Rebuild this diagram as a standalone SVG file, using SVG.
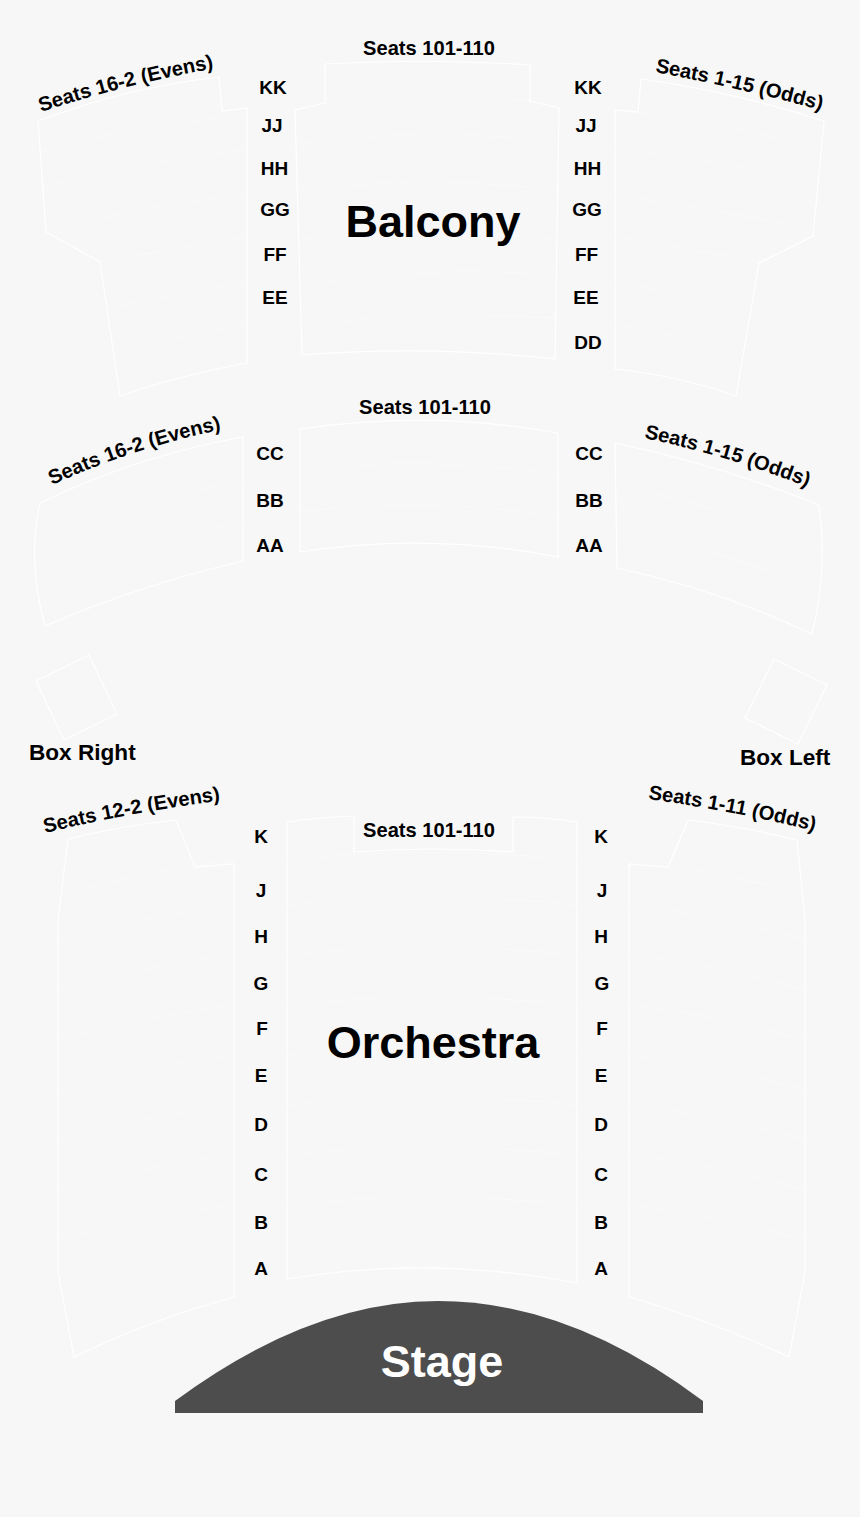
<svg xmlns="http://www.w3.org/2000/svg" width="860" height="1517" viewBox="0 0 860 1517">
<style>
.sec{fill:none;stroke:#fff;stroke-width:1.2;stroke-linejoin:miter}
.row{fill:none;stroke:#fafafa;stroke-width:1}
text{font-family:"Liberation Sans",Arial,sans-serif;font-weight:700;fill:#000}
.s{font-size:20.1px;text-anchor:middle}
.r{font-size:19px;text-anchor:middle}
.b{font-size:45px;text-anchor:middle}
.x{font-size:22.6px}
.c{font-size:20.2px}
</style>
<defs>
<path id="p1" d="M41 112Q122 85 216 68"/>
<path id="p2" d="M655 72Q740 88 828 112"/>
<path id="p3" d="M52 485Q132 448 224 429"/>
<path id="p4" d="M644 438Q730 456 815 490"/>
<path id="p5" d="M45 833Q132 812 224 800"/>
<path id="p6" d="M648 799Q735 811 822 833"/>
</defs>
<rect width="860" height="1517" fill="#f7f7f7"/>
<g id="connectors"></g>
<g id="balcony-left">
<path class="sec" d="M38 121Q125 88 219 77L222 111L247 108V363Q180 375 120 396L100 262L46 232Z"/>
<path class="row" d="M42 150Q140 125 247 115M44 187Q140 160 247 150M46 232Q140 205 247 195M100 262Q170 250 247 237M108 308Q170 295 247 283M113 352Q170 338 247 324"/>
</g>
<g id="balcony-center">
<path class="sec" d="M325 64Q430 58 530 65V101L559 108L555 359Q430 345 302 355L295 110L325 103Z"/>
<path class="row" d="M325 103Q430 95 530 101M296 145Q430 125 558 143M298 190Q430 175 557 190M299 240Q430 225 556 240M300 285Q430 265 555 275M301 325Q430 310 555 318"/>
</g>
<g id="balcony-right">
<path class="sec" d="M641 79Q735 92 824 121L813 236L759 263L736 396Q680 376 615 369V110L638 112Z"/>
<path class="row" d="M638 112Q740 125 820 150M615 148Q720 160 818 183M615 195Q720 210 815 230M615 237Q700 250 759 263M615 283Q700 295 745 310M615 325Q700 340 738 352"/>
</g>
<g id="mezz-left">
<path class="sec" d="M40 503Q140 455 243 437V561Q140 585 45 626Q27 560 40 503Z"/>
<path class="row" d="M36 545Q140 500 243 480M37 585Q140 540 243 522"/>
</g>
<g id="mezz-center">
<path class="sec" d="M300 429Q430 410 558 433V557Q430 532 300 552Z"/>
<path class="row" d="M300 470Q430 455 558 475M300 512Q430 495 558 517"/>
</g>
<g id="mezz-right">
<path class="sec" d="M615 443Q720 465 819 505Q828 570 812 634Q720 590 617 568Z"/>
<path class="row" d="M615 485Q720 505 821 548M616 527Q720 550 821 590"/>
</g>
<g id="box-right">
<path class="sec" d="M36 681L89 655L117 714L64 740Z"/>
<path class="row" d="M50 710L103 685"/>
</g>
<g id="box-left">
<path class="sec" d="M774 659L827 685L798 744L745 718Z"/>
<path class="row" d="M760 690L812 716"/>
</g>
<g id="orch-left">
<path class="sec" d="M68 839Q120 826 176 820L195 867L234 864V1297Q150 1320 74 1357L58 1272V920Z"/>
<path class="row" d="M61 895Q150 870 234 860M58 940Q150 915 234 905M58 990Q150 965 234 955M58 1040Q150 1015 234 1005M58 1090Q150 1065 234 1055M58 1140Q150 1115 234 1105M58 1190Q150 1165 234 1155M58 1240Q150 1215 234 1205"/>
</g>
<g id="orch-center">
<path class="sec" d="M287 822Q320 817 354 816V852Q435 846 513 852V817Q545 817 577 822V1283Q430 1255 287 1279Z"/>
<path class="row" d="M287 860Q430 845 577 860M287 905Q430 890 577 905M287 955Q430 940 577 955M287 1005Q430 990 577 1005M287 1055Q430 1040 577 1055M287 1105Q430 1090 577 1105M287 1155Q430 1140 577 1155M287 1205Q430 1190 577 1205"/>
</g>
<g id="orch-right">
<path class="sec" d="M688 820Q745 827 797 840L805 920V1272L789 1357Q710 1320 629 1297V864L668 867Z"/>
<path class="row" d="M668 867Q740 875 802 895M629 905Q720 915 805 940M629 955Q720 965 805 990M629 1005Q720 1015 805 1040M629 1055Q720 1065 805 1090M629 1105Q720 1115 805 1140M629 1155Q720 1165 805 1190M629 1205Q720 1215 805 1240"/>
</g>
<g id="stage">
<path d="M175 1401Q310 1301 438 1301Q570 1301 703 1401V1413H175Z" fill="#4d4d4d"/>
<text class="b" x="442" y="1377" style="fill:#fff">Stage</text>
</g>
<g id="labels">
<text class="s" x="429" y="55">Seats 101-110</text>
<text class="s" x="425" y="414">Seats 101-110</text>
<text class="s" x="429" y="837">Seats 101-110</text>
<text class="b" x="433" y="237">Balcony</text>
<text class="b" x="433" y="1058">Orchestra</text>
<text class="x" x="29" y="760">Box Right</text>
<text class="x" x="740" y="765">Box Left</text>
</g>
<g id="rows">
<text class="r" x="273" y="94">KK</text><text class="r" x="588" y="94">KK</text>
<text class="r" x="272" y="132">JJ</text><text class="r" x="586" y="132">JJ</text>
<text class="r" x="274.500" y="175">HH</text><text class="r" x="587.500" y="175">HH</text>
<text class="r" x="275" y="216">GG</text><text class="r" x="587" y="216">GG</text>
<text class="r" x="275" y="261">FF</text><text class="r" x="586.500" y="261">FF</text>
<text class="r" x="275" y="304">EE</text><text class="r" x="586" y="304">EE</text>
<text class="r" x="588" y="349">DD</text>
<text class="r" x="270" y="460">CC</text><text class="r" x="589" y="460">CC</text>
<text class="r" x="270" y="507">BB</text><text class="r" x="589" y="507">BB</text>
<text class="r" x="270" y="552">AA</text><text class="r" x="589" y="552">AA</text>
<text class="r" x="261" y="843">K</text><text class="r" x="601" y="843">K</text>
<text class="r" x="261" y="897">J</text><text class="r" x="602" y="897">J</text>
<text class="r" x="261" y="943">H</text><text class="r" x="601" y="943">H</text>
<text class="r" x="261" y="990">G</text><text class="r" x="602" y="990">G</text>
<text class="r" x="262" y="1035">F</text><text class="r" x="602" y="1035">F</text>
<text class="r" x="261" y="1082">E</text><text class="r" x="601" y="1082">E</text>
<text class="r" x="261" y="1131">D</text><text class="r" x="601" y="1131">D</text>
<text class="r" x="261" y="1181">C</text><text class="r" x="601" y="1181">C</text>
<text class="r" x="261" y="1229">B</text><text class="r" x="601" y="1229">B</text>
<text class="r" x="261" y="1275">A</text><text class="r" x="601" y="1275">A</text>
</g>
<g id="curved">
<text class="c"><textPath href="#p1">Seats 16-2 (Evens)</textPath></text>
<text class="c"><textPath href="#p2">Seats 1-15 (Odds)</textPath></text>
<text class="c"><textPath href="#p3">Seats 16-2 (Evens)</textPath></text>
<text class="c"><textPath href="#p4">Seats 1-15 (Odds)</textPath></text>
<text class="c"><textPath href="#p5">Seats 12-2 (Evens)</textPath></text>
<text class="c"><textPath href="#p6">Seats 1-11 (Odds)</textPath></text>
</g>
</svg>
